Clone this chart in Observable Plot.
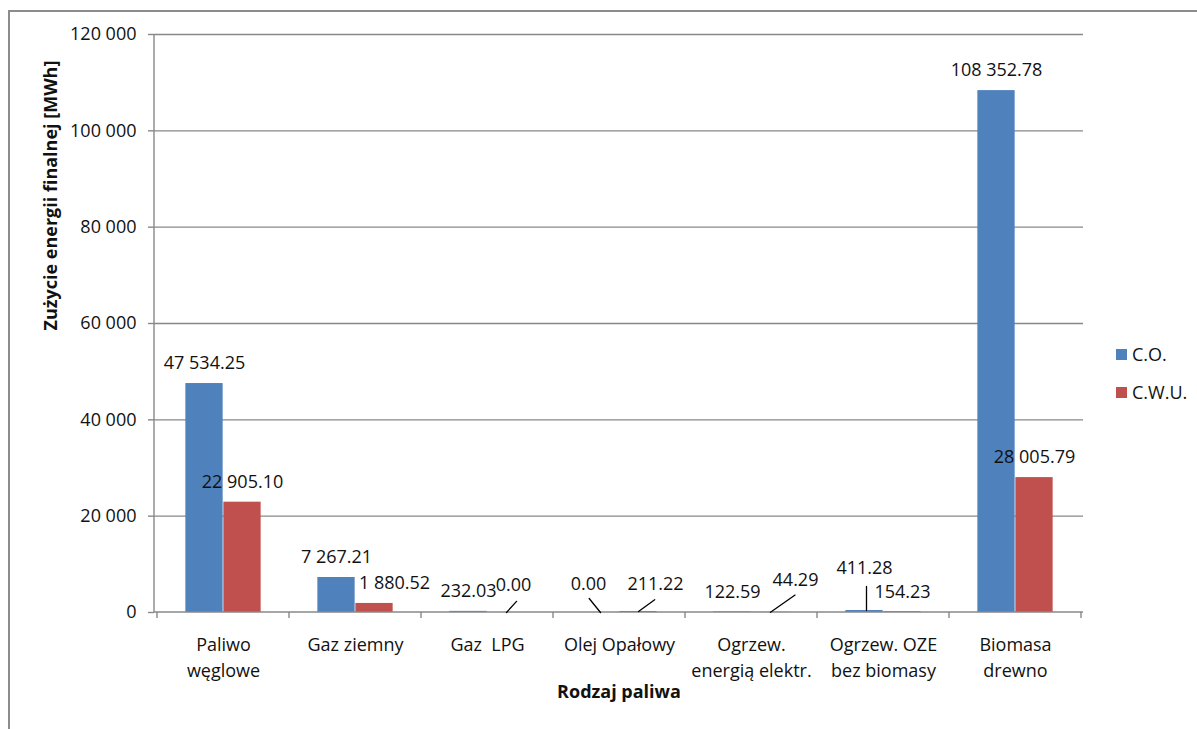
<!DOCTYPE html>
<html>
<head>
<meta charset="utf-8">
<script src="https://cdn.jsdelivr.net/npm/d3@7"></script>
<script src="https://cdn.jsdelivr.net/npm/@observablehq/plot@0.6"></script>
<style>
  body { margin: 0; background: #fff; font-family: "Open Sans", sans-serif; }
  #wrap { position: relative; width: 1197px; height: 729px; overflow: hidden; background: #fff; }
  #border { position: absolute; left: 8px; top: 10px; width: 1400px; height: 900px;
            border-top: 2px solid #8c8c8c; border-left: 2px solid #8c8c8c; }
  #chart { position: absolute; left: 0; top: 0; }
  #chart svg text { white-space: pre; }
  #legend { position: absolute; left: 1116px; top: 335px; font-size: 18px; color: #111; }
  .item { display: flex; align-items: center; height: 38px; }
  .sw { width: 11px; height: 11px; margin-right: 5px; }
</style>
</head>
<body>
<div id="wrap">
  <div id="border"></div>
  <div id="chart"></div>
  <div id="legend"></div>
</div>
<script>
// ---- data ----
const categories = ["Paliwo\nwęglowe", "Gaz ziemny", "Gaz  LPG", "Olej Opałowy",
  "Ogrzew.\nenergią elektr.", "Ogrzew. OZE\nbez biomasy", "Biomasa\ndrewno"];
const seriesNames = ["C.O.", "C.W.U."];
const coValues = [47534.25, 7267.21, 232.03, 0.00, 122.59, 411.28, 108352.78];
const cwuValues = [22905.10, 1880.52, 0.00, 211.22, 44.29, 154.23, 28005.79];
const yTicks = [0, 20000, 40000, 60000, 80000, 100000, 120000];
const xTitle = "Rodzaj paliwa";
const yTitle = "Zużycie energii finalnej [MWh]";

// ---- style / label layout (not data) ----
const colors = {"C.O.": "#4F81BD", "C.W.U.": "#C0504D"};
const gray = "#888888";
const textColor = "#111111";
const W = 1197, H = 729, mL = 154, mR = 114, mT = 34, mB = 117;
const bw = (W - mL - mR) / categories.length;
const barW = 38;
// manual nudges of data labels (category index, series, extra dx, extra dy, leader [length, angle])
const labelNudges = [
  {i: 1, s: "C.W.U.", dx: 20, dy: 0},
  {i: 2, s: "C.W.U.", dx: 7, dy: -7, leader: [15, 42]},
  {i: 3, s: "C.O.", dx: -12, dy: -8, leader: [18, -39]},
  {i: 3, s: "C.W.U.", dx: 17, dy: -7, leader: [20, 54]},
  {i: 4, s: "C.W.U.", dx: 25, dy: -12, leader: [30, 55]},
  {i: 5, s: "C.O.", dx: 0, dy: -22, leader: [24, 0], ldx: 2}
];

const fmtVal = v => d3.format(",.2f")(v).replace(/,/g, " ");
const fmtTick = v => d3.format(",")(v).replace(/,/g, " ");

const rows = categories.flatMap((c, i) => [
  {i, category: c, series: "C.O.", value: coValues[i]},
  {i, category: c, series: "C.W.U.", value: cwuValues[i]}
]);

const sideDx = s => (s === "C.O." ? -barW / 2 : barW / 2);

const labelMarks = rows.map(r => {
  const n = labelNudges.find(n => n.i === r.i && n.s === r.series) || {dx: 0, dy: 0};
  return Plot.text([r], {
    x: "category", y: "value", text: d => fmtVal(d.value),
    dx: sideDx(r.series) + n.dx, dy: -20 + n.dy,
    fontSize: 18, fill: textColor, lineAnchor: "middle"
  });
});

const leaderMarks = labelNudges.filter(n => n.leader).map(n => {
  const r = rows.find(r => r.i === n.i && r.series === n.s);
  return Plot.vector([r], {
    x: "category", y: "value", length: n.leader[0], rotate: n.leader[1],
    anchor: "start", shape: "spike", r: 0, stroke: "#000", strokeWidth: 1.3,
    dx: sideDx(r.series) + (n.ldx || 0)
  });
});

function axisLines(index, scales, values, dims) {
  const g = d3.create("svg:g").attr("stroke", gray).attr("stroke-width", 1.4).attr("fill", "none");
  const left = dims.marginLeft, right = dims.width - dims.marginRight;
  const bottom = dims.height - dims.marginBottom, top = dims.marginTop;
  g.append("line").attr("x1", left).attr("x2", left).attr("y1", top).attr("y2", bottom);
  g.append("line").attr("x1", left).attr("x2", right).attr("y1", bottom).attr("y2", bottom);
  const xs = categories.map(c => scales.x(c)).concat([scales.x(categories[categories.length - 1]) + scales.x.bandwidth()]);
  xs.forEach(x => g.append("line").attr("x1", x).attr("x2", x).attr("y1", bottom).attr("y2", bottom + 6));
  return g.node();
}

const chart = Plot.plot({
  width: W, height: H,
  marginLeft: mL, marginRight: mR, marginTop: mT, marginBottom: mB,
  style: {fontFamily: "'Open Sans', sans-serif", fontSize: "18px", background: "transparent", color: textColor},
  x: {domain: categories, padding: 0, axis: null},
  y: {domain: [0, 120000], axis: null},
  marks: [
    Plot.ruleY(yTicks.slice(1), {stroke: gray, strokeWidth: 1.4}),
    Plot.barY(rows.filter(d => d.series === "C.O."), {x: "category", y: "value", fill: colors["C.O."],
      insetLeft: bw / 2 - barW, insetRight: bw / 2}),
    Plot.barY(rows.filter(d => d.series === "C.W.U."), {x: "category", y: "value", fill: colors["C.W.U."],
      insetLeft: bw / 2, insetRight: bw / 2 - barW}),
    axisLines,
    Plot.axisY({ticks: yTicks, tickFormat: fmtTick, tickSize: 6, tickPadding: 12, stroke: gray,
      strokeWidth: 1.4, fontSize: 18, fill: textColor, label: null}),
    Plot.text(categories, {x: d => d, frameAnchor: "bottom", lineAnchor: "top", dy: 20,
      lineHeight: 1.45, fontSize: 18, fill: textColor}),
    ...leaderMarks,
    ...labelMarks,
    Plot.text([yTitle], {frameAnchor: "left", rotate: -90, dx: -103, dy: 7, fontWeight: "bold",
      fontSize: 18, fill: textColor}),
    Plot.text([xTitle], {frameAnchor: "bottom", dy: 85, fontWeight: "bold", fontSize: 18, fill: textColor})
  ]
});
document.getElementById("chart").appendChild(chart);

const legend = document.getElementById("legend");
seriesNames.forEach(s => {
  const it = document.createElement("div");
  it.className = "item";
  it.innerHTML = `<div class="sw" style="background:${colors[s]}"></div><span>${s}</span>`;
  legend.appendChild(it);
});
</script>
</body>
</html>
